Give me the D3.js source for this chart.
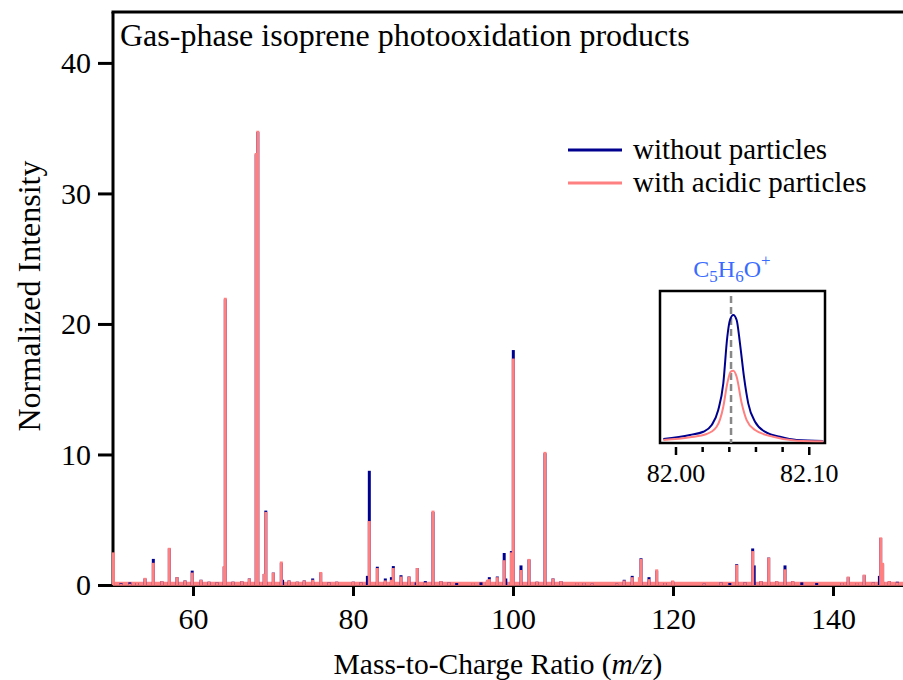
<!DOCTYPE html>
<html><head><meta charset="utf-8">
<script src="https://cdn.jsdelivr.net/npm/d3@7"></script>
<style>
html,body{margin:0;padding:0;background:#fff;}
svg{display:block;}
text{font-family:"Liberation Serif","Times New Roman",serif;fill:#000;}
</style></head>
<body>
<svg id="chart" width="903" height="680"></svg>
<script>
// ---------- DATA ----------
const peakMz = [50.05,51.0,52.1,53.0,54.0,55.04,56.1,57.04,58.0,59.0,59.9,61.0,62.0,63.0,63.9,64.04,65.0,66.1,67.04,67.9,68.1,68.9,69.1,70.04,71.04,71.2,72.0,73.04,73.9,74.96,75.96,77.0,77.96,80.04,81.0,81.8,82.04,83.04,84.04,84.8,85.04,86.0,87.0,87.9,88.04,89.04,90.0,91.0,92.0,92.96,95.04,96.0,96.8,97.04,98.04,98.9,99.1,99.8,100.04,101.0,102.0,103.0,104.0,105.0,106.0,107.96,108.9,109.9,112.96,113.9,114.9,115.8,116.0,117.0,117.96,119.0,119.96,123.9,126.0,127.1,127.96,129.0,129.96,130.15,131.0,131.96,132.96,134.0,134.96,136.1,137.96,141.1,141.9,142.96,143.9,145.04,145.8,145.96,146.2,147.04,148.04];
const withoutParticles = [0.2,0.15,0.2,0.15,0.5,2.0,0.3,2.8,0.6,0.35,1.1,0.4,0.25,0.2,1.4,21.9,0.25,0.3,0.5,33.0,34.7,0.85,5.7,0.95,1.7,0.4,0.35,0.25,0.35,0.5,0.95,0.2,0.25,0.25,0.2,0.7,8.75,1.4,0.5,0.6,1.45,0.75,0.65,0.2,1.3,0.3,5.6,0.3,0.2,0.15,0.15,0.2,0.3,0.6,0.65,2.45,0.5,2.6,18.0,1.5,1.95,0.25,10.1,0.5,0.3,0.15,0.15,0.1,0.1,0.4,0.7,0,2.05,0.6,1.1,0.15,0.3,0.1,0.2,0.15,1.6,0.2,2.8,1.5,0.3,2.1,0.3,1.5,0.3,0.2,0.15,0.15,0.6,0.15,0.75,0.2,0.7,3.6,1.6,0.3,0.25];
const withAcidicParticles = [2.5,0.1,0.1,0.2,0.55,1.7,0.3,2.85,0.6,0.35,0.95,0.4,0.25,0.2,1.45,22.0,0.25,0.3,0.5,33.1,34.8,0.85,5.6,0.95,1.8,0,0.35,0.25,0.35,0.4,1.0,0.2,0.25,0.25,0.2,0,4.9,1.3,0.35,0.4,1.3,0.65,0.65,0,1.3,0.2,5.7,0.3,0.2,0,0.15,0,0.4,0.45,0.6,1.9,0,2.5,17.35,1.15,2.0,0.25,10.2,0.5,0.3,0.15,0.15,0.1,0.1,0.35,0.6,0.6,2.0,0.45,1.2,0.15,0.35,0.1,0.2,0,1.55,0.2,2.6,0,0.3,2.1,0.3,1.2,0.3,0,0,0.15,0.65,0.15,0.8,0.2,0,3.65,1.7,0.3,0.2];
const xTicks = [60,80,100,120,140];
const yTicks = [0,10,20,30,40];

// inset data (C5H6O+ peak profile)
const insetMzBlue = [81.9905,82.0105,82.0205,82.0268,82.0317,82.0355,82.0385,82.0405,82.043,82.0455,82.048,82.051,82.0542,82.0593,82.068,82.078,82.0905,82.1105];
const insetBlue   = [0.026,0.053,0.074,0.118,0.217,0.393,0.699,0.809,0.842,0.809,0.656,0.436,0.261,0.14,0.068,0.041,0.02,0.013];
const insetMzPink = [81.9905,82.0105,82.023,82.0305,82.0355,82.0385,82.041,82.043,82.0455,82.0493,82.053,82.0593,82.073,82.0905,82.1105];
const insetPink   = [0.02,0.038,0.059,0.107,0.239,0.393,0.469,0.476,0.436,0.261,0.151,0.086,0.041,0.015,0.011];
const insetTicks = [82.00,82.02,82.04,82.06,82.08,82.10];
const insetLabels = ["82.00","82.10"];
const exactMass = 82.0413;

const seriesNames = ["without particles","with acidic particles"];
const BLUE = "#00008f", PINK = "#ff8080";

// ---------- CHART ----------
const svg = d3.select("#chart");
const x = d3.scaleLinear().domain([50,150]).range([113,913]);
const y = d3.scaleLinear().domain([0,43.9]).range([585,12]);

// baseline
svg.append("line").attr("x1",x(50)).attr("x2",x(150)).attr("y1",y(0)+1).attr("y2",y(0)+1)
  .attr("stroke","#000").attr("stroke-width",2);

// x axis ticks
const xAxis = d3.axisBottom(x).tickValues(xTicks).tickSize(10).tickPadding(12).tickFormat(d3.format("d"));
const gx = svg.append("g").attr("transform",`translate(0,${y(0)+1})`).call(xAxis);
gx.select(".domain").remove();
gx.selectAll(".tick line").attr("stroke","#000").attr("stroke-width",3);
gx.selectAll(".tick text").attr("font-size",30).attr("font-family",'"Liberation Serif",serif').attr("fill","#000");

// y axis
const yAxis = d3.axisLeft(y).tickValues(yTicks).tickSize(15).tickPadding(7);
const gy = svg.append("g").attr("transform",`translate(${x(50)},0)`).call(yAxis);
gy.select(".domain").attr("d",`M0,${y(0)+1}V${y(43.9)}`).attr("stroke","#000").attr("stroke-width",3);
gy.selectAll(".tick line").attr("stroke","#000").attr("stroke-width",3);
gy.selectAll(".tick text").attr("font-size",30).attr("font-family",'"Liberation Serif",serif').attr("fill","#000");

// top frame
svg.append("line").attr("x1",x(50)-1.5).attr("x2",903).attr("y1",y(43.9)).attr("y2",y(43.9))
  .attr("stroke","#000").attr("stroke-width",3);

// baseline trace (pink covers blue)
svg.append("line").attr("x1",x(50)).attr("x2",x(150)).attr("y1",y(0.1)).attr("y2",y(0.1))
  .attr("stroke",PINK).attr("stroke-width",4);

const peaks = peakMz.map((m,i)=>({m, b:withoutParticles[i], p:withAcidicParticles[i]}));
svg.append("g").selectAll("line").data(peaks.filter(d=>d.b>0)).join("line")
  .attr("x1",d=>x(d.m)).attr("x2",d=>x(d.m)).attr("y1",y(0)).attr("y2",d=>y(d.b))
  .attr("stroke",BLUE).attr("stroke-width",3);
svg.append("g").selectAll("line").data(peaks.filter(d=>d.p>0)).join("line")
  .attr("x1",d=>x(d.m)).attr("x2",d=>x(d.m)).attr("y1",y(0)).attr("y2",d=>y(d.p))
  .attr("stroke",PINK).attr("stroke-width",3);

// Title
svg.append("text").attr("x",120).attr("y",46).attr("font-size",32).text("Gas-phase isoprene photooxidation products");

// axis titles
const xt = svg.append("text").attr("x",498).attr("y",674).attr("text-anchor","middle").attr("font-size",29.5);
xt.append("tspan").text("Mass-to-Charge Ratio (");
xt.append("tspan").attr("font-style","italic").text("m/z");
xt.append("tspan").text(")");
svg.append("text").attr("transform","translate(40,296) rotate(-90)").attr("text-anchor","middle")
  .attr("font-size",32).text("Normalized Intensity");

// legend
const leg = svg.append("g");
[BLUE,PINK].forEach((c,i)=>{
  const yy = 150 + i*33;
  leg.append("line").attr("x1",568).attr("x2",622).attr("y1",yy).attr("y2",yy).attr("stroke",c).attr("stroke-width",3);
  leg.append("text").attr("x",633).attr("y",yy+9).attr("font-size",29).text(seriesNames[i]);
});

// ---------- INSET ----------
const xi = d3.scaleLinear().domain([81.988,82.1118]).range([660,825]);
const yi = d3.scaleLinear().domain([0,1]).range([443,291]);
svg.append("rect").attr("x",660).attr("y",291).attr("width",165).attr("height",152)
  .attr("fill","#fff").attr("stroke","#000").attr("stroke-width",2.5);
svg.append("line").attr("x1",xi(exactMass)).attr("x2",xi(exactMass)).attr("y1",296).attr("y2",443)
  .attr("stroke","#888").attr("stroke-width",2.5).attr("stroke-dasharray","7,4");
const lineGen = d3.line().curve(d3.curveMonotoneX);
svg.append("path").attr("d",lineGen(insetMzBlue.map((m,i)=>[xi(m),yi(insetBlue[i])])))
  .attr("fill","none").attr("stroke",BLUE).attr("stroke-width",2);
svg.append("path").attr("d",lineGen(insetMzPink.map((m,i)=>[xi(m),yi(insetPink[i])])))
  .attr("fill","none").attr("stroke",PINK).attr("stroke-width",2);
// inset ticks
const ig = svg.append("g");
ig.selectAll("line").data(insetTicks).join("line")
  .attr("x1",d=>xi(d)).attr("x2",d=>xi(d)).attr("y1",447)
  .attr("y2",(d,i)=> (i===0||i===insetTicks.length-1)?455:452)
  .attr("stroke","#000").attr("stroke-width",2.5);
ig.selectAll("text").data(insetLabels).join("text")
  .attr("x",d=>xi(+d)).attr("y",482).attr("text-anchor","middle").attr("font-size",26).text(d=>d);
// inset title C5H6O+
const it = svg.append("text").attr("x",732).attr("y",277).attr("text-anchor","middle")
  .attr("font-size",24).style("fill","#3a6bff");
it.append("tspan").text("C");
it.append("tspan").attr("font-size",17).attr("dy",5).text("5");
it.append("tspan").attr("dy",-5).text("H");
it.append("tspan").attr("font-size",17).attr("dy",5).text("6");
it.append("tspan").attr("dy",-5).text("O");
it.append("tspan").attr("font-size",17).attr("dy",-11).text("+");
</script>
</body></html>
